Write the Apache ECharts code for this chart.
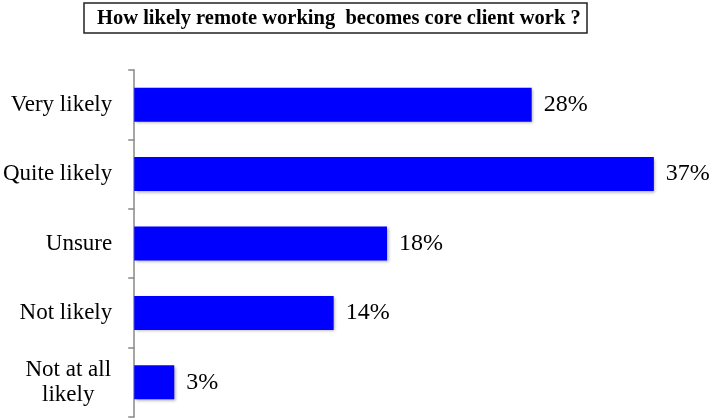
<!DOCTYPE html>
<html><head><meta charset="utf-8">
<script src="https://cdn.jsdelivr.net/npm/echarts@6/dist/echarts.min.js"></script>
<style>html,body{margin:0;padding:0;background:#fff}#c{width:709px;height:418px}</style>
</head><body><div id="c"></div>
<script>
const titleText = 'How likely remote working  becomes core client work ?';
const categories = ['Very likely', 'Quite likely', 'Unsure', 'Not likely', 'Not at all\nlikely'];
const values = [28.3, 37, 18, 14.2, 2.85];
const valueLabels = ['28%', '37%', '18%', '14%', '3%'];

const FONT = '"Liberation Serif", serif';
const chart = echarts.init(document.getElementById('c'), null, {renderer: 'canvas'});
chart.setOption({
  animation: false,
  title: {
    text: titleText,
    left: 84, top: 3,
    padding: [5, 7, 4, 13],
    borderColor: '#222', borderWidth: 1.5,
    textStyle: {fontFamily: FONT, fontWeight: 'bold', fontSize: 20.5, color: '#000'}
  },
  grid: {left: 132, right: 13, top: 70, bottom: 1, containLabel: false},
  xAxis: {type: 'value', min: 0, max: 40, show: false},
  yAxis: {
    type: 'category', inverse: true,
    data: categories.map((c, i) => i === categories.length - 1
      ? {value: c, textStyle: {align: 'center', padding: [0, 88, 0, 0]}}
      : c),
    axisLine: {show: true, lineStyle: {color: '#888', width: 1.5}},
    axisTick: {show: true, length: 6, lineStyle: {color: '#888', width: 1.5}},
    axisLabel: {margin: 22, fontFamily: FONT, fontSize: 23, color: '#000', lineHeight: 25},
    splitLine: {show: false}
  },
  series: [{
    type: 'bar',
    data: values,
    barWidth: '49%',
    itemStyle: {color: '#0000FF', shadowColor: 'rgba(0,0,0,0.35)', shadowBlur: 3, shadowOffsetX: 1.5, shadowOffsetY: 1.5},
    label: {
      show: true, position: 'right', distance: 12,
      formatter: p => valueLabels[p.dataIndex],
      fontFamily: FONT, fontSize: 24, color: '#000'
    }
  }]
});
</script></body></html>
